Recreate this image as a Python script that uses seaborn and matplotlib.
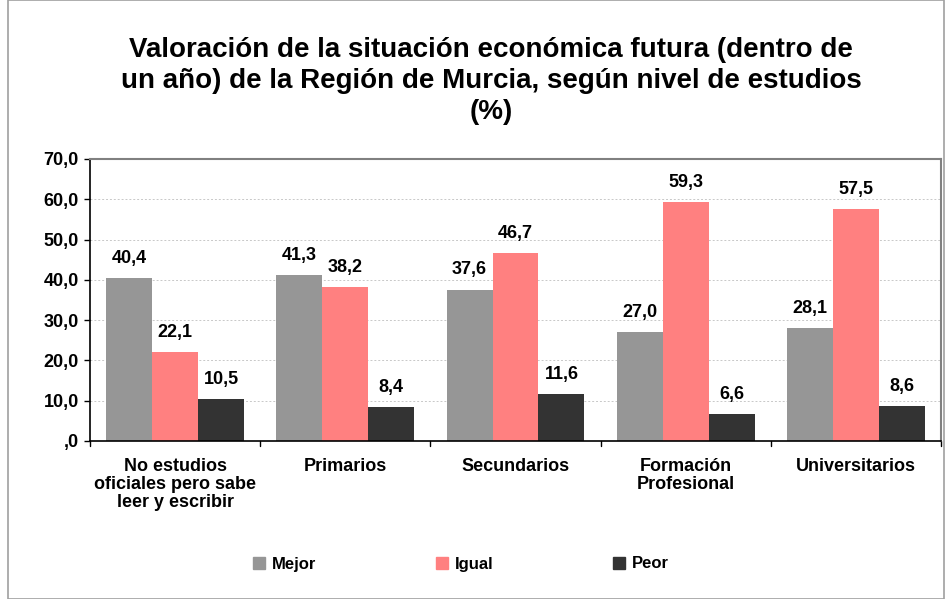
import matplotlib
matplotlib.use("Agg")
import matplotlib.pyplot as plt
import seaborn as sns
import pandas as pd
from matplotlib.patches import Rectangle
from matplotlib.lines import Line2D

categories = ["No estudios\noficiales pero sabe\nleer y escribir", "Primarios", "Secundarios",
              "Formación\nProfesional", "Universitarios"]
series = ["Mejor", "Igual", "Peor"]
mejor = [40.4, 41.3, 37.6, 27.0, 28.1]
igual = [22.1, 38.2, 46.7, 59.3, 57.5]
peor = [10.5, 8.4, 11.6, 6.6, 8.6]
yticks = [0, 10, 20, 30, 40, 50, 60, 70]
ytick_labels = [",0", "10,0", "20,0", "30,0", "40,0", "50,0", "60,0", "70,0"]
colors = ["#969696", "#FF8080", "#333333"]

rows = []
for s, vals in zip(series, [mejor, igual, peor]):
    for c, v in zip(categories, vals):
        rows.append({"cat": c, "serie": s, "valor": v})
df = pd.DataFrame(rows)

sns.set_theme(style="white")
plt.rcParams['font.family'] = ['Liberation Sans', 'DejaVu Sans']
plt.rcParams['font.weight'] = 'bold'
plt.rcParams['text.color'] = 'black'
plt.rcParams['xtick.color'] = 'black'
plt.rcParams['ytick.color'] = 'black'

fig = plt.figure(figsize=(9.52, 5.99), dpi=100)
ax = fig.add_axes([90/952, 1 - 441/599, 851/952, (441-159)/599])

sns.barplot(data=df, x="cat", y="valor", hue="serie", order=categories, hue_order=series,
            palette=colors, width=0.81, saturation=1, ax=ax, legend=False,
            edgecolor="none", linewidth=0)

for cont in ax.containers:
    labels = [f"{v:.1f}".replace(".", ",") for v in cont.datavalues]
    ax.bar_label(cont, labels=labels, padding=8, fontsize=13, fontweight='bold', color='black')

ax.set_ylim(0, 70)
ax.set_xlim(-0.5, 4.5)
ax.set_yticks(yticks)
ax.set_yticklabels(ytick_labels, fontsize=13, fontweight='bold')
ax.set_xticks(range(len(categories)))
ax.set_xticklabels(categories, fontsize=13, fontweight='bold', linespacing=1.1)
ax.set_xlabel("")
ax.set_ylabel("")
ax.yaxis.grid(True, color="#c8c8c8", linestyle=(0, (2, 2)), linewidth=0.7)
ax.set_axisbelow(True)
for side in ["top", "right"]:
    ax.spines[side].set_color("#808080")
    ax.spines[side].set_linewidth(1.5)
for side in ["left", "bottom"]:
    ax.spines[side].set_color("black")
    ax.spines[side].set_linewidth(1.2)

ax.tick_params(axis='y', which='both', left=True, length=4, width=1, color='black', pad=4)
ax.tick_params(axis='x', bottom=False, pad=6)
for xb in [-0.5, 0.5, 1.5, 2.5, 3.5, 4.5]:
    ax.plot([xb, xb], [0, -1.2], color='black', lw=1, clip_on=False)

fig.text(491/952, 1 - 81/599,
         "Valoración de la situación económica futura (dentro de\nun año) de la Región de Murcia, según nivel de estudios\n(%)",
         ha='center', va='center', fontsize=20, fontweight='bold', linespacing=1.27, color='black')

handles = [Line2D([0], [0], marker='s', linestyle='none', markersize=8,
                  markerfacecolor=c, markeredgecolor=c) for c in colors]
fig.legend(handles, series, loc='center', bbox_to_anchor=(461/952, 1 - 564/599), ncol=3,
           frameon=False, prop={'weight': 'bold', 'size': 12},
           columnspacing=7.2, handletextpad=0.4, handlelength=0.7)

fig.patches.append(Rectangle((8/952, 0), 1 - 16/952, 1, transform=fig.transFigure,
                             fill=False, edgecolor="#a0a0a0", linewidth=1.2))

fig.savefig("out.png", dpi=100)
